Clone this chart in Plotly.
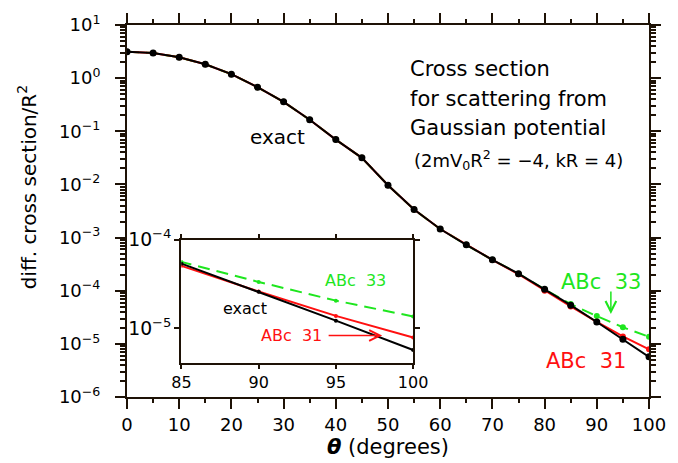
import plotly.graph_objects as go

# ---- data ----
theta = [0, 5, 10, 15, 20, 25, 30, 35, 40, 45, 50, 55, 60, 65, 70, 75, 80, 85, 90, 95, 100]
exact = [3.15, 2.97, 2.47, 1.82, 1.19, 0.675, 0.358, 0.165, 0.0697, 0.0316, 0.00966,
         0.00336, 0.00145, 7.3e-4, 3.82e-4, 2.09e-4, 1.06e-4, 5.35e-5, 2.58e-5, 1.22e-5, 5.7e-6]
abc31 = [3.15, 2.97, 2.47, 1.82, 1.19, 0.675, 0.358, 0.165, 0.0697, 0.0316, 0.00966,
         0.00336, 0.00145, 7.3e-4, 3.80e-4, 2.04e-4, 1.0e-4, 5.05e-5, 2.6e-5, 1.38e-5, 7.9e-6]
abc33 = [3.15, 2.97, 2.47, 1.82, 1.19, 0.675, 0.358, 0.165, 0.0697, 0.0316, 0.00966,
         0.00336, 0.00145, 7.3e-4, 3.82e-4, 2.09e-4, 1.06e-4, 5.6e-5, 3.33e-5, 2.05e-5, 1.36e-5]

main_ytick_vals = [1e-6, 1e-5, 1e-4, 1e-3, 1e-2, 1e-1, 1e0, 1e1]
main_ytick_text = ["10<sup>−6</sup>", "10<sup>−5</sup>", "10<sup>−4</sup>", "10<sup>−3</sup>",
                   "10<sup>−2</sup>", "10<sup>−1</sup>", "10<sup>0</sup>", "10<sup>1</sup>"]
main_minor_y = [m * 10.0 ** e for e in range(-6, 1) for m in range(2, 10)]
INSET_LOG_RANGE = [-5.385, -4]

FRAME = "#1e1206"
GREEN = "#1ee61e"
RED = "#ff1010"
BLACK = "#000000"
FONT = "DejaVu Sans"

W, H = 678, 463
L, R, T, B = 127, 17, 22, 60


def px(x):
    return (x - L) / (W - L - R)


def py(y):
    return (H - B - y) / (H - T - B)


fig = go.Figure()

# main traces
fig.add_trace(go.Scatter(x=theta, y=abc33, mode="lines+markers",
                         line=dict(color=GREEN, width=2, dash="12px,7px"),
                         marker=dict(color=GREEN, size=6), xaxis="x", yaxis="y"))
fig.add_trace(go.Scatter(x=theta, y=abc31, mode="lines+markers",
                         line=dict(color=RED, width=2),
                         marker=dict(color=RED, size=6), xaxis="x", yaxis="y"))
fig.add_trace(go.Scatter(x=theta, y=exact, mode="lines+markers",
                         line=dict(color=BLACK, width=2),
                         marker=dict(color=BLACK, size=7), xaxis="x", yaxis="y"))

# inset traces
fig.add_trace(go.Scatter(x=theta, y=abc33, mode="lines+markers",
                         line=dict(color=GREEN, width=2, dash="12px,7px"),
                         marker=dict(color=GREEN, size=4), xaxis="x2", yaxis="y2"))
fig.add_trace(go.Scatter(x=theta, y=abc31, mode="lines+markers",
                         line=dict(color=RED, width=2),
                         marker=dict(color=RED, size=4), xaxis="x2", yaxis="y2"))
fig.add_trace(go.Scatter(x=theta, y=exact, mode="lines+markers",
                         line=dict(color=BLACK, width=2),
                         marker=dict(color=BLACK, size=4), xaxis="x2", yaxis="y2"))

axis_common = dict(showline=True, linecolor=FRAME, linewidth=2, mirror="ticks",
                   ticks="outside", tickcolor=FRAME, showgrid=False, zeroline=False,
                   tickfont=dict(family=FONT, size=18, color="#000"))

fig.update_layout(
    width=W, height=H,
    margin=dict(l=L, r=R, t=T, b=B),
    paper_bgcolor="white", plot_bgcolor="white",
    showlegend=False,
    font=dict(family=FONT, color="#000"),
    xaxis=dict(axis_common, domain=[0, 1], anchor="y", range=[0, 100],
               tickmode="linear", tick0=0, dtick=10, ticklen=10, tickwidth=2,
               minor=dict(ticks="outside", ticklen=4, tickwidth=2, tick0=0, dtick=5, tickcolor=FRAME),
               title=dict(text="<b><i>θ</i></b> (degrees)", font=dict(family=FONT, size=21), standoff=2)),
    yaxis=dict(axis_common, domain=[0, 1], anchor="x", type="log", range=[-6, 1],
               tickvals=main_ytick_vals, ticktext=main_ytick_text, ticklen=10, tickwidth=2,
               ticklabelstandoff=11,
               minor=dict(ticks="outside", ticklen=5, tickwidth=1.5, tickmode="array",
                          tickvals=main_minor_y, tickcolor=FRAME)),
    xaxis2=dict(axis_common, domain=[px(182.7), px(419.7)], anchor="y2", range=[85, 100],
                ticklen=4, tickwidth=2,
                tickfont=dict(family=FONT, size=16, color="#000")),
    yaxis2=dict(axis_common, domain=[py(367.7), py(241.7)], anchor="x2", type="log",
                range=INSET_LOG_RANGE, dtick=1, exponentformat="power",
                ticklen=5, tickwidth=2,
                tickfont=dict(family=FONT, size=15, color="#000")),
)

ann = []


def txt(x, y, s, color="#000", size=18, xanchor="left"):
    ann.append(dict(x=px(x), y=py(y), xref="paper", yref="paper", text=s, showarrow=False,
                    xanchor=xanchor, yanchor="middle",
                    font=dict(family=FONT, size=size, color=color)))


# y-axis title
ann.append(dict(x=px(25), y=py(188), xref="paper", yref="paper", text="diff. cross section/R<sup>2</sup>",
                showarrow=False, textangle=-90, xanchor="center", yanchor="middle",
                font=dict(family=FONT, size=20, color="#000")))

txt(414, 67, "Cross section", size=21)
txt(414, 98, "for scattering from", size=21)
txt(414, 128, "Gaussian potential", size=21)
txt(419, 160, "(2mV<sub>0</sub>R<sup>2</sup> = −4, kR = 4)", size=18)
txt(281, 137, "exact", size=20, xanchor="center")
txt(612, 285, "ABc  33", size=21, color=GREEN, xanchor="center")
txt(597, 366, "ABc  31", size=21, color=RED, xanchor="center")
# inset labels
txt(361, 284, "ABc  33", size=16, color=GREEN, xanchor="center")
txt(248, 312, "exact", size=16, xanchor="center")
txt(295, 340, "ABc  31", size=16, color=RED, xanchor="center")

# arrows
ann.append(dict(x=px(622), y=py(318), xref="paper", yref="paper", text="", showarrow=True,
                ax=0, ay=-24, arrowhead=5, arrowsize=1.4, arrowwidth=1.5, arrowcolor=GREEN))
ann.append(dict(x=px(388), y=py(340), xref="paper", yref="paper", text="", showarrow=True,
                ax=-55, ay=0, arrowhead=5, arrowsize=1.4, arrowwidth=1.5, arrowcolor=RED))

fig.update_layout(annotations=ann)

fig.write_html("out.html")
